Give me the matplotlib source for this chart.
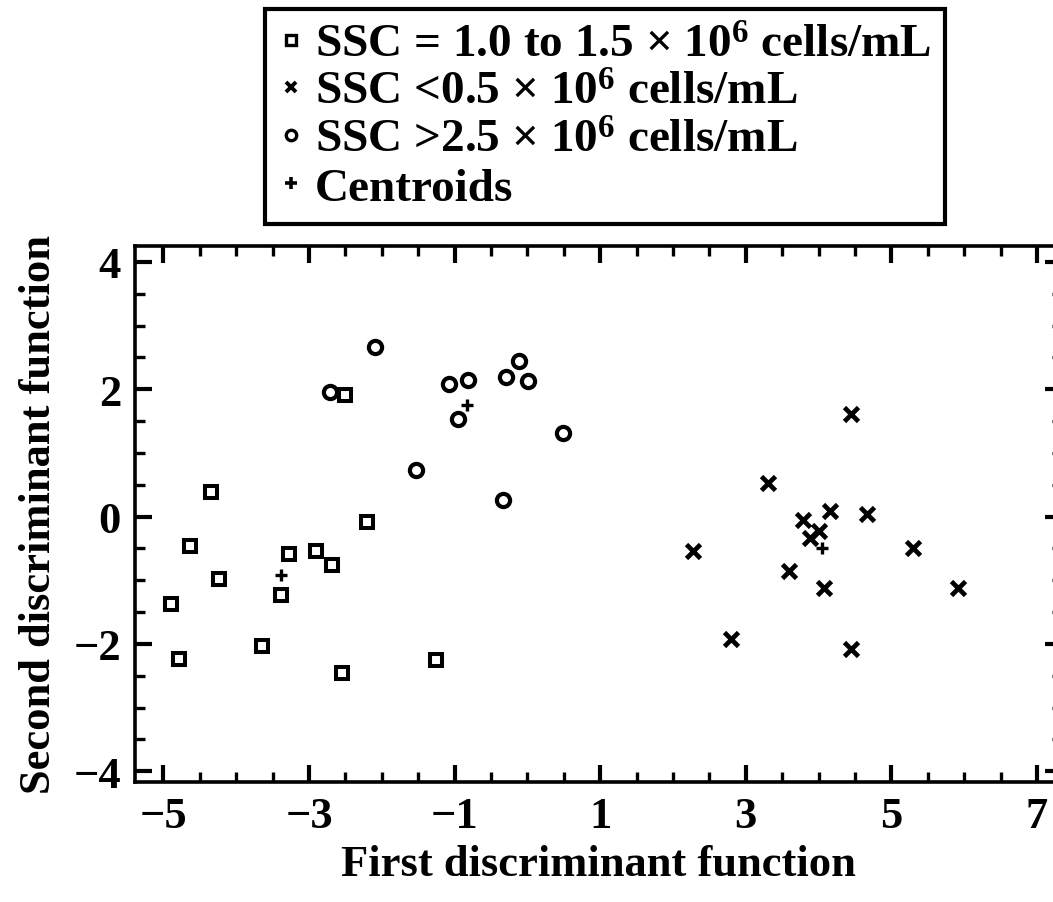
import matplotlib
matplotlib.use("Agg")
import matplotlib.pyplot as plt
from matplotlib.lines import Line2D
from matplotlib.ticker import MultipleLocator, FixedLocator

plt.rcParams["font.family"] = ["Liberation Serif", "DejaVu Serif"]
plt.rcParams["font.weight"] = "bold"
plt.rcParams["mathtext.fontset"] = "custom"
plt.rcParams["mathtext.rm"] = "Liberation Serif:bold"
plt.rcParams["mathtext.bf"] = "Liberation Serif:bold"
plt.rcParams["mathtext.default"] = "bf"

# Discriminant scores per sperm-count group
mid_x = [-4.35, -2.50, -4.64, -4.23, -4.89, -4.78, -3.28, -3.39, -2.90, -2.68, -2.21, -3.64, -2.55, -1.25]
mid_y = [0.38, 1.91, -0.46, -0.98, -1.38, -2.23, -0.59, -1.23, -0.54, -0.76, -0.09, -2.04, -2.46, -2.26]

low_x = [4.44, 3.30, 3.79, 4.16, 4.67, 4.01, 3.88, 2.28, 5.29, 3.60, 4.07, 5.91, 2.80, 4.45]
low_y = [1.61, 0.53, -0.05, 0.09, 0.04, -0.22, -0.33, -0.54, -0.49, -0.86, -1.13, -1.12, -1.92, -2.08]

high_x = [-2.09, -2.71, -1.08, -0.81, -0.95, -0.29, -0.12, 0.01, -1.53, -0.33, 0.49]
high_y = [2.67, 1.95, 2.08, 2.15, 1.53, 2.19, 2.45, 2.13, 0.73, 0.26, 1.31]

cent_x = [-3.38, -0.83, 4.05]
cent_y = [-0.92, 1.76, -0.49]

labels = [
    r"SSC = 1.0 to 1.5 $\times$ 10$^{6}$ cells/mL",
    r"SSC <0.5 $\times$ 10$^{6}$ cells/mL",
    r"SSC >2.5 $\times$ 10$^{6}$ cells/mL",
    "Centroids",
]

x_ticks = [-5, -3, -1, 1, 3, 5, 7]
y_ticks = [-4, -2, 0, 2, 4]

fig = plt.figure(figsize=(10.53, 9.03), dpi=100)
xlim = (-5.39, 7.35)
ylim = (-4.17, 4.25)
left_px, bottom_px, top_px = 135, 783, 247
px_per_x = 72.8
width_px = (xlim[1] - xlim[0]) * px_per_x
ax = fig.add_axes([left_px / 1053, 1 - bottom_px / 903,
                   width_px / 1053, (bottom_px - top_px) / 903])

ax.plot(mid_x, mid_y, ls="none", marker="s", ms=8.5, mew=2.9, mfc="white", mec="black")
ax.plot(low_x, low_y, ls="none", marker="x", ms=10, mew=3.4, color="black")
ax.plot(high_x, high_y, ls="none", marker="o", ms=9.5, mew=3.0, mfc="white", mec="black")
ax.plot(cent_x, cent_y, ls="none", marker="+", ms=8, mew=2.4, color="black")

ax.set_xlim(*xlim)
ax.set_ylim(*ylim)
ax.xaxis.set_major_locator(FixedLocator(x_ticks))
ax.xaxis.set_minor_locator(MultipleLocator(0.5))
ax.yaxis.set_major_locator(FixedLocator(y_ticks))
ax.yaxis.set_minor_locator(MultipleLocator(0.5))
ax.tick_params(which="both", direction="in", top=True, right=True, color="black")
ax.tick_params(which="major", length=12, width=3, labelsize=32, pad=10)
ax.tick_params(which="minor", length=7, width=2.4)
for s in ax.spines.values():
    s.set_linewidth(2.6)

ax.set_xlabel("First discriminant function", fontsize=32, fontweight="bold", labelpad=6)
ax.set_ylabel("Second discriminant function", fontsize=32, fontweight="bold", labelpad=10)

handles = [
    Line2D([], [], ls="none", marker="s", ms=7, mew=2.4, mfc="white", mec="black"),
    Line2D([], [], ls="none", marker="x", ms=7.5, mew=2.8, color="black"),
    Line2D([], [], ls="none", marker="o", ms=7.5, mew=2.4, mfc="white", mec="black"),
    Line2D([], [], ls="none", marker="+", ms=8, mew=2.6, color="black"),
]
leg = fig.legend(handles, labels, loc="upper left",
                 bbox_to_anchor=(265 / 1053, 1 - 10 / 903),
                 bbox_transform=fig.transFigure, borderaxespad=0,
                 fancybox=False, frameon=True, edgecolor="black", framealpha=1,
                 prop={"family": "Liberation Serif", "weight": "bold", "size": 34},
                 handlelength=0.5, handletextpad=0.25, labelspacing=0.1,
                 borderpad=0.3)
leg.get_frame().set_linewidth(3.0)

fig.savefig("out.png", dpi=100)
